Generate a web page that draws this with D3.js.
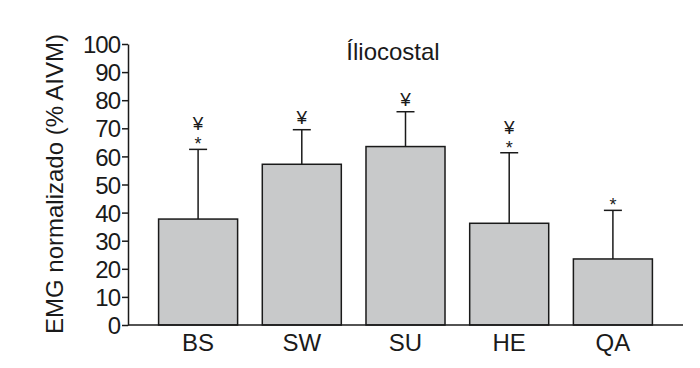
<!DOCTYPE html>
<html>
  <head>
    <title>Íliocostal</title>
    <script src="https://cdn.jsdelivr.net/npm/d3@7/dist/d3.min.js"></script>
    <style>
      body { margin: 0; background: #fff; }
      text { font-family: "Liberation Sans", Arial, sans-serif; fill: #1a1a1a; }
    </style>
  </head>
  <body>
    <svg width="700" height="368"></svg>

    <script>
      // data
      const categories = ["BS", "SW", "SU", "HE", "QA"];
      const means = [37.7, 57.2, 63.5, 36.2, 23.5];
      const sds = [24.8, 12.3, 12.4, 25.1, 17.3];
      const markers = [["¥", "*"], ["¥"], ["¥"], ["¥", "*"], ["*"]];
      const yTicks = [0, 10, 20, 30, 40, 50, 60, 70, 80, 90, 100];

      const svg = d3.select("svg");
      const ink = "#1a1a1a";

      const x = d3.scaleBand()
        .domain(categories)
        .range([128, 683])
        .paddingInner(0.238)
        .paddingOuter(0.295);

      const y = d3.scaleLinear()
        .domain([0, 100])
        .range([325, 44]);

      // y axis
      const yAxis = svg.append("g")
        .attr("transform", "translate(128,0)")
        .call(d3.axisLeft(y).tickValues(yTicks).tickSize(6).tickPadding(2).tickSizeOuter(0));
      yAxis.select(".domain").attr("stroke", ink).attr("stroke-width", 1.5);
      yAxis.selectAll(".tick line").attr("stroke", ink).attr("stroke-width", 1.5);
      yAxis.selectAll(".tick text")
        .style("font-family", "Liberation Sans, Arial, sans-serif")
        .style("font-size", "24px")
        .style("letter-spacing", "-1px")
        .attr("fill", ink)
        .attr("dy", "0.36em");

      // bars
      svg.append("g").selectAll("rect")
        .data(categories)
        .join("rect")
          .attr("x", d => x(d))
          .attr("y", (d, i) => y(means[i]))
          .attr("width", x.bandwidth())
          .attr("height", (d, i) => y(0) - y(means[i]))
          .attr("fill", "#c8c9ca")
          .attr("stroke", ink)
          .attr("stroke-width", 1.5);

      // error bars (upper only)
      const err = svg.append("g").attr("stroke", ink).attr("stroke-width", 1.5);
      categories.forEach((c, i) => {
        const cx = x(c) + x.bandwidth() / 2;
        const top = y(means[i] + sds[i]);
        err.append("line").attr("x1", cx).attr("x2", cx).attr("y1", y(means[i])).attr("y2", top);
        err.append("line").attr("x1", cx - 9).attr("x2", cx + 9).attr("y1", top).attr("y2", top);

        // significance markers, stacked above the cap
        const m = markers[i].slice().reverse();
        m.forEach((s, k) => {
          svg.append("text")
            .attr("x", cx)
            .attr("y", s === "*" ? top + 1 : top - 6 - k * 13)
            .attr("text-anchor", "middle")
            .style("font-size", s === "*" ? "18px" : "19px")
            .text(s);
        });
      });

      // x axis line
      svg.append("line")
        .attr("x1", 128).attr("x2", 683)
        .attr("y1", y(0)).attr("y2", y(0))
        .attr("stroke", ink).attr("stroke-width", 1.5);

      svg.append("g").selectAll("text")
        .data(categories)
        .join("text")
          .attr("x", d => x(d) + x.bandwidth() / 2)
          .attr("y", 351)
          .attr("text-anchor", "middle")
          .style("font-size", "24px")
          .text(d => d);

      // title
      svg.append("text")
        .attr("x", 393)
        .attr("y", 60)
        .attr("text-anchor", "middle")
        .style("font-size", "24px")
        .text("Íliocostal");

      // y label
      svg.append("text")
        .attr("transform", "translate(63,184) rotate(-90)")
        .attr("text-anchor", "middle")
        .style("font-size", "24px")
        .text("EMG normalizado (% AIVM)");
    </script>
  </body>
</html>
